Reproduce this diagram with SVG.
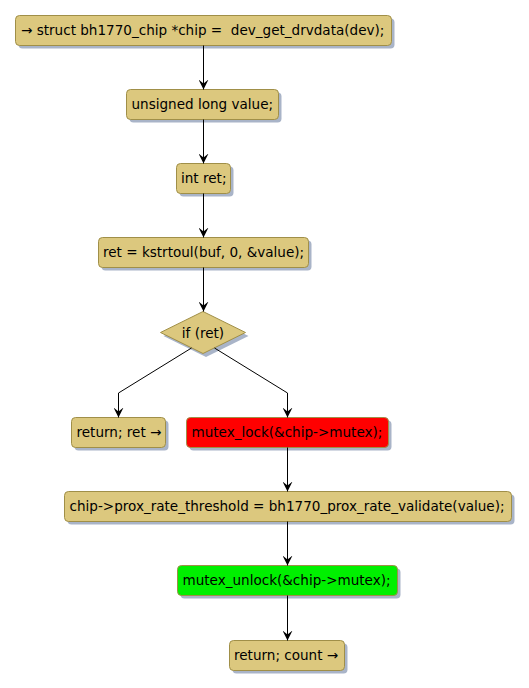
<svg xmlns="http://www.w3.org/2000/svg" width="529" height="688" viewBox="0 0 529 688">
<defs>
<style>
.n{fill:#DCC87E;stroke:#A08F48;stroke-width:1}
.r{fill:#FF0000;stroke:#A08F48;stroke-width:1}
.g{fill:#00F000;stroke:#A08F48;stroke-width:1}
.s{fill:#A9B4C8}
.t{font-family:"DejaVu Sans",sans-serif;font-size:13.55px;fill:#000;white-space:pre}
.c{fill:none;stroke:#000;stroke-width:1}
</style>
<marker id="a" markerWidth="10" markerHeight="10" refX="5" refY="10" orient="0" markerUnits="userSpaceOnUse" viewBox="0 0 10 10">
<path d="M0,0 L5,10 L10,0 L5,4 Z" fill="#000"/>
</marker>
</defs>
<rect width="529" height="688" fill="#fff"/>
<g id="n1"><rect class="s" x="18.5" y="18.5" width="376" height="30" rx="4"/><rect class="n" x="15.5" y="15.5" width="376" height="30" rx="4"/><text class="t" x="21" y="35" xml:space="preserve">→ struct bh1770_chip *chip =  dev_get_drvdata(dev);</text></g>
<g id="n2"><rect class="s" x="129.5" y="92.5" width="152" height="30" rx="4"/><rect class="n" x="126.5" y="89.5" width="152" height="30" rx="4"/><text class="t" x="131.5" y="109">unsigned long value;</text></g>
<g id="n3"><rect class="s" x="179.5" y="166.5" width="54" height="30" rx="4"/><rect class="n" x="176.5" y="163.5" width="54" height="30" rx="4"/><text class="t" x="181" y="183">int ret;</text></g>
<g id="n4"><rect class="s" x="101.5" y="240.5" width="210" height="30" rx="4"/><rect class="n" x="98.5" y="237.5" width="210" height="30" rx="4"/><text class="t" x="103" y="257">ret = kstrtoul(buf, 0, &amp;value);</text></g>
<g id="d1"><polygon class="s" points="206,315 248.5,336 206,357 163.5,336"/><polygon class="n" points="203,311.5 245.5,332.5 203,353.5 160.5,332.5"/><text class="t" x="203" y="337.5" text-anchor="middle">if (ret)</text></g>
<g id="n5"><rect class="s" x="74.5" y="420.5" width="94" height="30" rx="4"/><rect class="n" x="71.5" y="417.5" width="94" height="30" rx="4"/><text class="t" x="76.5" y="437">return; ret →</text></g>
<g id="n6"><rect class="s" x="189.5" y="420.5" width="202" height="30" rx="4"/><rect class="r" x="186.5" y="417.5" width="202" height="30" rx="4"/><text class="t" x="191.5" y="437">mutex_lock(&amp;chip-&gt;mutex);</text></g>
<g id="n7"><rect class="s" x="67.5" y="494.5" width="447" height="30" rx="4"/><rect class="n" x="64.5" y="491.5" width="447" height="30" rx="4"/><text class="t" x="69.5" y="511">chip-&gt;prox_rate_threshold = bh1770_prox_rate_validate(value);</text></g>
<g id="n8"><rect class="s" x="180.5" y="568.5" width="220" height="30" rx="4"/><rect class="g" x="177.5" y="565.5" width="220" height="30" rx="4"/><text class="t" x="182.5" y="585">mutex_unlock(&amp;chip-&gt;mutex);</text></g>
<g id="n9"><rect class="s" x="232.5" y="643.5" width="115" height="30" rx="4"/><rect class="n" x="229.5" y="640.5" width="115" height="30" rx="4"/><text class="t" x="234" y="660">return; count →</text></g>
<g id="connectors">
<path class="c" d="M203.5,45.5 V89.5" marker-end="url(#a)"/>
<path class="c" d="M203.5,119.5 V163.5" marker-end="url(#a)"/>
<path class="c" d="M203.5,193.5 V237.5" marker-end="url(#a)"/>
<path class="c" d="M203.5,267.5 V311.5" marker-end="url(#a)"/>
<path class="c" d="M191.5,348 L118.5,393 V417.5" marker-end="url(#a)"/>
<path class="c" d="M214.5,348 L287.5,393 V417.5" marker-end="url(#a)"/>
<path class="c" d="M287.5,447.5 V491.5" marker-end="url(#a)"/>
<path class="c" d="M287.5,521.5 V565.5" marker-end="url(#a)"/>
<path class="c" d="M287.5,595.5 V640.5" marker-end="url(#a)"/>
</g>
</svg>
